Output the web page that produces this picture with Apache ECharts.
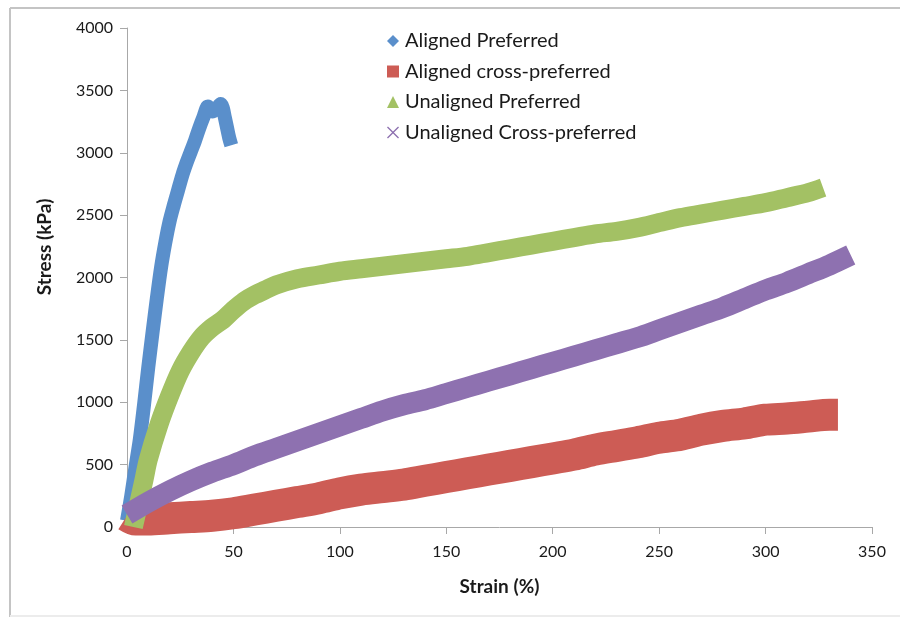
<!DOCTYPE html>
<html>
<head>
<meta charset="utf-8">
<script src="https://cdn.jsdelivr.net/npm/echarts@6/dist/echarts.min.js"></script>
<style>html,body{margin:0;padding:0;background:#fff}#c{width:900px;height:619px}</style>
</head>
<body>
<div id="c"></div>
<script>
// ---- data ----
const seriesNames = ["Aligned Preferred", "Aligned cross-preferred", "Unaligned Preferred", "Unaligned Cross-preferred"];
const xTicks = [0, 50, 100, 150, 200, 250, 300, 350];
const yTicks = [0, 500, 1000, 1500, 2000, 2500, 3000, 3500, 4000];

const alignedPrefStrain = [0, 2, 4, 6, 8, 10, 12, 14, 16, 18, 20, 22, 24, 26, 28, 30, 32, 34, 36, 38, 40, 42, 44, 45, 46, 47, 48, 49];
const alignedPrefStress = [50, 250, 480, 700, 980, 1280, 1560, 1830, 2080, 2280, 2450, 2580, 2700, 2820, 2920, 3010, 3100, 3200, 3290, 3370, 3330, 3350, 3390, 3360, 3280, 3200, 3120, 3060];

const alignedCrossStrain = [0, 4, 10, 20, 30, 40, 50, 60, 70, 80, 90, 100, 110, 120, 130, 140, 150, 160, 170, 180, 190, 200, 210, 220, 230, 240, 250, 260, 270, 280, 290, 300, 310, 320, 330, 334];
const alignedCrossStress = [90, 60, 60, 70, 80, 90, 110, 140, 170, 200, 230, 270, 300, 320, 340, 370, 400, 430, 460, 490, 520, 550, 580, 620, 650, 680, 715, 740, 780, 810, 830, 860, 870, 885, 900, 900];

const unalignedPrefStrain = [3, 5, 8, 10, 15, 20, 25, 30, 35, 40, 45, 50, 55, 60, 65, 70, 80, 90, 100, 110, 120, 130, 140, 150, 160, 170, 180, 190, 200, 210, 220, 230, 240, 250, 260, 270, 280, 290, 300, 310, 320, 327];
const unalignedPrefStress = [0, 150, 380, 540, 820, 1050, 1250, 1400, 1520, 1600, 1660, 1740, 1810, 1860, 1900, 1940, 1990, 2020, 2050, 2070, 2090, 2110, 2130, 2150, 2170, 2200, 2230, 2260, 2290, 2320, 2350, 2370, 2400, 2440, 2480, 2510, 2540, 2570, 2600, 2640, 2680, 2720];

const unalignedCrossStrain = [0, 10, 20, 30, 40, 50, 60, 70, 80, 90, 100, 110, 120, 130, 140, 150, 160, 170, 180, 190, 200, 210, 220, 230, 240, 250, 260, 270, 280, 290, 300, 310, 320, 330, 340];
const unalignedCrossStress = [100, 200, 290, 370, 440, 500, 570, 630, 690, 750, 810, 870, 930, 980, 1020, 1070, 1120, 1170, 1220, 1270, 1320, 1370, 1420, 1470, 1520, 1580, 1640, 1700, 1760, 1830, 1900, 1960, 2030, 2100, 2180];

// ---- chart ----
const colors = ['#5a8fcb', '#cd5c55', '#a3c164', '#8e71b0'];
const widths = [14, 32, 19, 21];
const pairs = [
  [alignedPrefStrain, alignedPrefStress],
  [alignedCrossStrain, alignedCrossStress],
  [unalignedPrefStrain, unalignedPrefStress],
  [unalignedCrossStrain, unalignedCrossStress]
];
const crossIcon = 'path://M0,0.8L0.8,0L5,4.2L9.2,0L10,0.8L5.8,5L10,9.2L9.2,10L5,5.8L0.8,10L0,9.2L4.2,5Z';
const icons = ['diamond', 'rect', 'triangle', crossIcon];

const FONT = 'Lato, "Open Sans", sans-serif';
const chart = echarts.init(document.getElementById('c'), null, {renderer: 'canvas'});
chart.setOption({
  animation: false,
  backgroundColor: '#ffffff',
  grid: {left: 127, right: 28, top: 28, bottom: 92, containLabel: false},
  legend: {
    orient: 'vertical', left: 382, top: 25,
    itemWidth: 12, itemHeight: 12, itemGap: 8.5,
    textStyle: {fontFamily: FONT, fontSize: 20, color: '#1a1a1a', lineHeight: 22, padding: [0, 0, 0, 1]},
    data: seriesNames.map((n, i) => ({name: n, icon: icons[i]}))
  },
  xAxis: {
    type: 'value', min: xTicks[0], max: xTicks[xTicks.length - 1], interval: 50,
    name: 'Strain (%)', nameLocation: 'middle', nameGap: 50,
    nameTextStyle: {fontFamily: FONT, fontSize: 19, fontWeight: 'bold', color: '#1a1a1a'},
    axisLine: {show: true, lineStyle: {color: '#a8a8a8', width: 1}},
    axisTick: {show: true, inside: false, length: 7, lineStyle: {color: '#a8a8a8'}},
    axisLabel: {fontFamily: FONT, fontSize: 16, color: '#1a1a1a', margin: 17, formatter: v => String(v)},
    splitLine: {show: false}
  },
  yAxis: {
    type: 'value', min: yTicks[0], max: yTicks[yTicks.length - 1], interval: 500,
    axisLine: {show: true, lineStyle: {color: '#a8a8a8', width: 1}},
    axisTick: {show: true, inside: false, length: 7, lineStyle: {color: '#a8a8a8'}},
    axisLabel: {fontFamily: FONT, fontSize: 16, color: '#1a1a1a', margin: 14, formatter: v => String(v)},
    splitLine: {show: false}
  },
  graphic: [
    {type: 'line', shape: {x1: 10, y1: 8, x2: 900, y2: 8}, style: {stroke: '#c4c4c4', lineWidth: 2}, silent: true},
    {type: 'line', shape: {x1: 10, y1: 8, x2: 10, y2: 617}, style: {stroke: '#c4c4c4', lineWidth: 2}, silent: true},
    {type: 'line', shape: {x1: 10, y1: 616, x2: 900, y2: 616}, style: {stroke: '#ececec', lineWidth: 2}, silent: true},
    {type: 'text', x: 45, y: 247, rotation: Math.PI / 2,
      style: {text: 'Stress (kPa)', fontFamily: FONT, fontSize: 19, fontWeight: 'bold', fill: '#1a1a1a', align: 'center', verticalAlign: 'middle'}}
  ],
  series: pairs.map((p, i) => ({
    name: seriesNames[i],
    type: 'line',
    data: p[0].map((x, k) => [x, p[1][k]]),
    showSymbol: false,
    symbol: 'none',
    smooth: 0.3,
    clip: true,
    itemStyle: {color: colors[i]},
    lineStyle: {color: colors[i], width: widths[i], join: 'round', cap: 'butt'},
    z: 2 + i
  }))
});
</script>
</body>
</html>
